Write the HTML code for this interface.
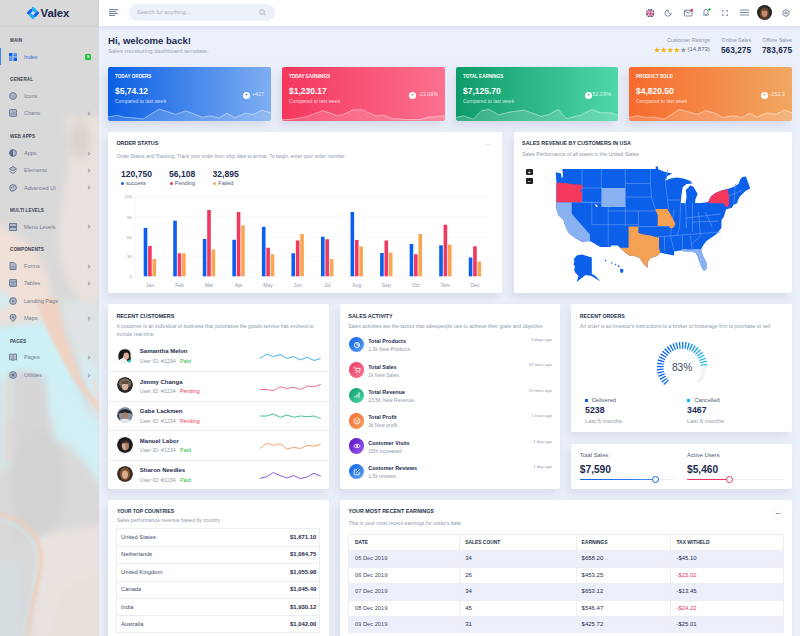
<!DOCTYPE html>
<html><head><meta charset="utf-8">
<style>
*{box-sizing:border-box;margin:0;padding:0}
html,body{width:800px;height:636px;overflow:hidden}
body{background:#ecf0fa;font-family:"Liberation Sans",sans-serif;color:#1f2b4d;position:relative}
.a{position:absolute;white-space:nowrap}
.card{position:absolute;background:#fff;border-radius:2px;box-shadow:-3px 5px 8px 0 rgba(200,206,222,.55)}
.t{font-weight:700;color:#242f48}
.m{color:#8f98ad}
/* sidebar */
#sb{position:absolute;left:0;top:0;width:99px;height:636px;overflow:hidden;background:#d9d9d9}
#sb .nav{position:absolute;left:0;top:0;width:99px;height:636px}
.sh{position:absolute;left:10px;font-size:4.6px;font-weight:700;color:#3b4150;letter-spacing:.1px}
.si{position:absolute;left:24px;font-size:5.55px;color:#737b8f}
.ic{position:absolute;left:9px;width:8px;height:8px}
.chev{position:absolute;left:87px;width:2.6px;height:2.6px;border-right:.7px solid #989eac;border-top:.7px solid #989eac;transform:rotate(45deg)}
/* header */
#hd{position:absolute;left:99px;top:0;width:701px;height:26.5px;background:#fff;border-bottom:.5px solid #e3e6f3;box-shadow:0 1px 3px rgba(190,195,235,.45);z-index:2}
</style></head>
<body>
<div id="sb">
  <svg width="99" height="636" style="position:absolute;left:0;top:0" viewBox="0 0 99 636">
    <defs>
      <filter id="bl" x="-50%" y="-50%" width="200%" height="200%"><feGaussianBlur stdDeviation="3.5"/></filter>
      <filter id="bl2" x="-50%" y="-50%" width="200%" height="200%"><feGaussianBlur stdDeviation="1.4"/></filter>
    </defs>
    <rect width="99" height="636" fill="#d9d9d9"/>
    <g filter="url(#bl)">
      <path d="M62 118 C80 150 58 200 58 240 C60 270 70 290 80 300 L110 300 L110 115Z" fill="#e9e1dd"/>
      <ellipse cx="80" cy="140" rx="10" ry="20" fill="#dcd3cf"/>
      <path d="M-5 222 C15 232 38 248 46 272 C50 285 52 300 55 318 L-5 325Z" fill="#efe0d8"/>
      <path d="M58 300 C66 340 85 380 104 418 L104 300Z" fill="#dee2e4"/>
      <path d="M-5 328 C20 325 40 320 52 322 C60 345 75 380 92 418 L-5 418Z" fill="#cdf0f7"/>
      <ellipse cx="2" cy="300" rx="9" ry="9" fill="#d3ecf1"/>
      <path d="M80 350 C90 360 99 370 104 380 L104 430 C95 420 88 400 80 350Z" fill="#d6edf2"/>
      <path d="M12 372 C25 368 40 372 46 380 C50 420 55 470 60 540 L12 540Z" fill="#d6d6d7"/>
      <path d="M46 380 C70 385 95 420 104 430 L104 490 C90 470 70 440 55 440Z" fill="#d2eff5"/>
      <ellipse cx="38" cy="485" rx="28" ry="55" fill="#d3d3d4"/>
      <path d="M36 540 C45 560 35 590 30 640 L104 640 L104 525 C80 530 55 525 36 540Z" fill="#e9e2df"/>
      <path d="M60 590 C75 580 95 575 104 570 L104 640 L50 640Z" fill="#eae0da"/>
      <path d="M-5 560 L22 560 L22 640 L-5 640Z" fill="#d6dde0"/>
      <path d="M-5 380 L10 380 L10 470 L-5 470Z" fill="#d8e3e6"/>
    </g>
    <g filter="url(#bl2)">
      <path d="M36 298 C44 330 62 360 76 382 L99 414 L101 408 L81 380 C70 350 62 330 57 298Z" fill="#f1d3c4"/>
      <path d="M0 514 C20 519 38 528 41 556 C42 580 30 600 28 636" fill="none" stroke="#f1cdb9" stroke-width="3"/>
      <path d="M0 520 C18 525 34 534 37 556 C38 580 26 600 24 636" fill="none" stroke="#d3e6ea" stroke-width="1.4"/>
      <path d="M94 378 C97 395 99 410 99 420" fill="none" stroke="#ecd6ca" stroke-width="2"/>
      <path d="M9 372 C8 400 11 430 8 460" fill="none" stroke="#eed2c4" stroke-width="1.8"/>
    </g>
    <line x1="0" y1="26" x2="99" y2="26" stroke="#cfcfd2" stroke-width=".6"/>
  </svg>
  <div class="nav">
    <svg class="a" style="left:26.2px;top:5.6px" width="14" height="14" viewBox="-7 -7 14 14">
      <g transform="rotate(45)">
        <rect x="-4.7" y="-4.7" width="6.4" height="3.1" rx="1.2" fill="#19b0f6"/>
        <rect x="1.6" y="-4.7" width="3.1" height="6.4" rx="1.2" fill="#0b66ee"/>
        <rect x="-1.7" y="1.6" width="6.4" height="3.1" rx="1.2" fill="#19b0f6"/>
        <rect x="-4.7" y="-1.7" width="3.1" height="6.4" rx="1.2" fill="#0b66ee"/>
      </g>
    </svg>
    <div class="a" style="left:40.5px;top:6px;font-size:11.3px;line-height:14px;font-weight:700;color:#17254a">Valex</div>
    <div class="a" style="left:0;top:48px;width:1.2px;height:16.5px;background:#3d86f0"></div>
    <svg class="a" style="left:9px;top:53px" width="8" height="8" viewBox="0 0 8 8">
      <rect x="0" y="0" width="3.5" height="3.5" fill="#0a62e8"/><rect x="4.5" y="0.3" width="3.5" height="1.2" fill="#0a62e8"/><rect x="4.5" y="2.2" width="3.5" height="1.2" fill="#0a62e8"/>
      <rect x="0" y="4.5" width="3.5" height="1.2" fill="#0a62e8"/><rect x="0" y="6.5" width="3.5" height="1.2" fill="#0a62e8"/><rect x="4.5" y="4.5" width="3.5" height="3.5" fill="#0a62e8"/>
    </svg>
    <div class="si" style="top:51.7px;line-height:10px;color:#2f6fe0">Index</div>
    <div class="a" style="left:85px;top:54px;width:6px;height:6px;background:#22c03c;border-radius:1px;font-size:4px;line-height:6px;color:#fff;text-align:center;font-weight:700">9</div>
<div class="sh" style="top:35.7px;line-height:10px">MAIN</div>
<div class="sh" style="top:75.0px;line-height:10px">GENERAL</div>
<div class="sh" style="top:131.8px;line-height:10px">WEB APPS</div>
<div class="sh" style="top:206.0px;line-height:10px">MULTI LEVELS</div>
<div class="sh" style="top:245.0px;line-height:10px">COMPONENTS</div>
<div class="sh" style="top:336.5px;line-height:10px">PAGES</div>
<svg class="a" style="left:9px;top:92.0px" width="8" height="8" viewBox="0 0 8 8"><circle cx="4" cy="4" r="3.4" fill="#b3bccb" stroke="#5d6e8c" stroke-width=".9"/><path d="M2.4 4.6 C3 5.6 5 5.6 5.6 4.6" fill="none" stroke="#5d6e8c" stroke-width=".6"/><circle cx="2.9" cy="3.2" r=".45" fill="#5d6e8c"/><circle cx="5.1" cy="3.2" r=".45" fill="#5d6e8c"/></svg>
<div class="si" style="top:91.0px;line-height:10px">Icons</div>
<svg class="a" style="left:9px;top:109.3px" width="8" height="8" viewBox="0 0 8 8"><rect x=".6" y=".6" width="6.8" height="6.8" rx=".6" fill="#b3bccb" stroke="#5d6e8c" stroke-width=".9"/><path d="M2.3 5.8V4M4 5.8V2.4M5.7 5.8V3.4" stroke="#5d6e8c" stroke-width=".7"/></svg>
<div class="si" style="top:108.3px;line-height:10px">Charts</div>
<div class="chev" style="top:111.8px"></div>
<svg class="a" style="left:9px;top:149.0px" width="8" height="8" viewBox="0 0 8 8"><circle cx="4" cy="4" r="3.4" fill="#b3bccb" stroke="#5d6e8c" stroke-width=".9"/><path d="M4 .6 A3.4 3.4 0 0 0 4 7.4Z" fill="#5d6e8c"/></svg>
<div class="si" style="top:148.0px;line-height:10px">Apps</div>
<div class="chev" style="top:151.5px"></div>
<svg class="a" style="left:9px;top:166.2px" width="8" height="8" viewBox="0 0 8 8"><path d="M4 .5 L7.5 2.8 L4 5 L.5 2.8Z" fill="#b3bccb" stroke="#5d6e8c" stroke-width=".9"/><path d="M.5 5 L4 7.5 L7.5 5" fill="none" stroke="#5d6e8c" stroke-width=".9"/></svg>
<div class="si" style="top:165.2px;line-height:10px">Elements</div>
<div class="chev" style="top:168.7px"></div>
<svg class="a" style="left:9px;top:183.7px" width="8" height="8" viewBox="0 0 8 8"><path d="M4 .6 A3.4 3.4 0 1 0 4.2 7.4 C5 7.4 4.6 6.2 5.4 6 C6.6 5.8 7.4 5.4 7.4 4 A3.4 3.4 0 0 0 4 .6Z" fill="#b3bccb" stroke="#5d6e8c" stroke-width=".9"/><circle cx="2.6" cy="3.4" r=".5" fill="#5d6e8c"/><circle cx="4.4" cy="2.4" r=".5" fill="#5d6e8c"/></svg>
<div class="si" style="top:182.7px;line-height:10px">Advanced UI</div>
<div class="chev" style="top:186.2px"></div>
<svg class="a" style="left:9px;top:222.8px" width="8" height="8" viewBox="0 0 8 8"><rect x=".6" y=".6" width="6.8" height="3" fill="#b3bccb" stroke="#5d6e8c" stroke-width=".9"/><rect x=".6" y="4.4" width="6.8" height="3" fill="#b3bccb" stroke="#5d6e8c" stroke-width=".9"/></svg>
<div class="si" style="top:221.8px;line-height:10px">Menu Levels</div>
<div class="chev" style="top:225.3px"></div>
<svg class="a" style="left:9px;top:262.0px" width="8" height="8" viewBox="0 0 8 8"><path d="M1 .5 H5 L7 2.5 V7.5 H1Z" fill="#b3bccb" stroke="#5d6e8c" stroke-width=".9"/><path d="M2.6 4.4H5.4M2.6 5.9H5.4" stroke="#5d6e8c" stroke-width=".6"/></svg>
<div class="si" style="top:261.0px;line-height:10px">Forms</div>
<div class="chev" style="top:264.5px"></div>
<svg class="a" style="left:9px;top:279.0px" width="8" height="8" viewBox="0 0 8 8"><rect x=".6" y=".6" width="6.8" height="6.8" rx=".4" fill="#b3bccb" stroke="#5d6e8c" stroke-width=".9"/><path d="M.6 2.8H7.4M3 2.8V7.4M5 2.8V7.4" stroke="#5d6e8c" stroke-width=".6"/></svg>
<div class="si" style="top:278.0px;line-height:10px">Tables</div>
<div class="chev" style="top:281.5px"></div>
<svg class="a" style="left:9px;top:296.7px" width="8" height="8" viewBox="0 0 8 8"><circle cx="4" cy="4" r="3.4" fill="#b3bccb" stroke="#5d6e8c" stroke-width=".9"/><path d="M3.2 2.6 L5.4 4 L3.2 5.4Z" fill="#5d6e8c"/></svg>
<div class="si" style="top:295.7px;line-height:10px">Landing Page</div>
<svg class="a" style="left:9px;top:314.2px" width="8" height="8" viewBox="0 0 8 8"><path d="M4 7.6 C1.5 5 1 4 1 3.2 A3 3 0 0 1 7 3.2 C7 4 6.5 5 4 7.6Z" fill="#b3bccb" stroke="#5d6e8c" stroke-width=".9"/><circle cx="4" cy="3.2" r="1" fill="#5d6e8c"/></svg>
<div class="si" style="top:313.2px;line-height:10px">Maps</div>
<div class="chev" style="top:316.7px"></div>
<svg class="a" style="left:9px;top:353.2px" width="8" height="8" viewBox="0 0 8 8"><path d="M.5 1.2 C1.5 .9 2.8 .9 4 1.6 C5.2 .9 6.5 .9 7.5 1.2 V7 C6.5 6.7 5.2 6.7 4 7.4 C2.8 6.7 1.5 6.7 .5 7Z" fill="#b3bccb" stroke="#5d6e8c" stroke-width=".8"/><path d="M4 1.6V7.4" stroke="#5d6e8c" stroke-width=".6"/></svg>
<div class="si" style="top:352.2px;line-height:10px">Pages</div>
<div class="chev" style="top:355.7px"></div>
<svg class="a" style="left:9px;top:371.0px" width="8" height="8" viewBox="0 0 8 8"><circle cx="4" cy="4" r="3.4" fill="#b3bccb" stroke="#5d6e8c" stroke-width=".9"/><circle cx="4" cy="4" r="1.5" fill="#5d6e8c"/></svg>
<div class="si" style="top:370.0px;line-height:10px">Utilities</div>
<div class="chev" style="top:373.5px"></div>
  </div>
</div>
<div id="hd">
  <svg class="a" style="left:10px;top:9px" width="9" height="7" viewBox="0 0 9 7"><path d="M0 .6H9M0 2.6H7M0 4.6H9M0 6.4H6" stroke="#5b6e88" stroke-width=".9"/></svg>
  <div class="a" style="left:30px;top:4px;width:146px;height:17px;border-radius:9px;background:#edf0f9"></div>
  <div class="a" style="left:38px;top:7.3px;font-size:5.6px;line-height:10px;color:#a8afc0">Search for anything...</div>
  <svg class="a" style="left:160px;top:8.5px" width="7" height="7" viewBox="0 0 7 7"><circle cx="3" cy="3" r="2.3" fill="none" stroke="#9aa3b6" stroke-width=".8"/><path d="M4.7 4.7 L6.5 6.5" stroke="#9aa3b6" stroke-width=".8"/></svg>
  <!-- right icons -->
  <svg class="a" style="left:547.2px;top:8.5px" width="8.4" height="8.4" viewBox="0 0 8 8">
    <defs><clipPath id="fc"><circle cx="4" cy="4" r="4"/></clipPath></defs>
    <g clip-path="url(#fc)"><rect width="8" height="8" fill="#28499e"/><path d="M0 0L8 8M8 0L0 8" stroke="#fff" stroke-width="1.2"/><path d="M0 0L8 8M8 0L0 8" stroke="#e0324a" stroke-width=".45"/><path d="M4 0V8M0 4H8" stroke="#fff" stroke-width="1.6"/><path d="M4 0V8M0 4H8" stroke="#e0324a" stroke-width="1"/></g>
  </svg>
  <svg class="a" style="left:565px;top:8.5px" width="8" height="8" viewBox="0 0 8 8"><path d="M4.2 1 A3.1 3.1 0 1 0 7.2 4.6 A2.6 2.6 0 0 1 4.2 1Z" fill="none" stroke="#5b6e88" stroke-width=".8"/></svg>
  <svg class="a" style="left:584.5px;top:8.5px" width="10" height="8" viewBox="0 0 10 8"><rect x=".5" y="1.2" width="7.5" height="5.8" rx=".6" fill="none" stroke="#5b6e88" stroke-width=".8"/><path d="M.8 1.6 L4.2 4 L7.7 1.6" fill="none" stroke="#5b6e88" stroke-width=".8"/><circle cx="7.8" cy="1.2" r="1.3" fill="#ee335e"/></svg>
  <svg class="a" style="left:602.5px;top:7.5px" width="10" height="9" viewBox="0 0 10 9"><path d="M1.3 6.8 H6.7 L6 5.8 V3.6 A2 2.2 0 0 0 2 3.6 V5.8Z" fill="none" stroke="#5b6e88" stroke-width=".8"/><path d="M3.2 7.6 H4.8" stroke="#5b6e88" stroke-width=".8"/><circle cx="7.5" cy="1.5" r="1.3" fill="#22c03c"/></svg>
  <svg class="a" style="left:622.5px;top:9.5px" width="6" height="6" viewBox="0 0 6 6"><path d="M.4 1.8V.4H1.8M4.2 .4H5.6V1.8M5.6 4.2V5.6H4.2M1.8 5.6H.4V4.2" fill="none" stroke="#5b6e88" stroke-width=".8"/></svg>
  <svg class="a" style="left:641px;top:9px" width="9" height="7" viewBox="0 0 9 7"><path d="M0 1H9M0 3.5H9M0 6H9" stroke="#5b6e88" stroke-width=".8"/></svg>
  <svg class="a" style="left:657.8px;top:5.1px" width="15" height="15" viewBox="0 0 16 16"><defs><clipPath id="hav"><circle cx="8" cy="8" r="8"/></clipPath></defs><g clip-path="url(#hav)"><rect width="16" height="16" fill="#1d2621"/><ellipse cx="8" cy="9" rx="5.2" ry="7" fill="#5e3d2a"/><ellipse cx="8" cy="8.6" rx="3.1" ry="4.3" fill="#c48e6e"/><path d="M4.5 5 C5.5 2.5 10.5 2.5 11.5 5 L10 6 L6 6Z" fill="#6b4630"/></g></svg>
  <svg class="a" style="left:683px;top:8.5px" width="8" height="8" viewBox="0 0 8 8"><path d="M4 .5 L7 2.25 V5.75 L4 7.5 L1 5.75 V2.25Z" fill="none" stroke="#5b6e88" stroke-width=".8"/><circle cx="4" cy="4" r="1.2" fill="none" stroke="#5b6e88" stroke-width=".8"/></svg>
</div>

<div id="main">
<div class="a t" style="left:108px;top:34.5px;font-size:9.58px;line-height:12px;color:#1d2b4f">Hi, welcome back!</div>
<div class="a m" style="left:108px;top:47px;font-size:5.99px;line-height:9px;color:#9aa1b3">Sales monitoring dashboard template.</div>
<div class="a m" style="left:667px;top:35.9px;font-size:5.37px;line-height:9px;color:#8a93a8">Customer Ratings</div>
<svg class="a" style="left:654px;top:46.8px" width="33" height="6" viewBox="0 0 33 6">
  <g id="st"><path d="M3 .3 L3.8 2.1 L5.8 2.2 L4.3 3.5 L4.8 5.4 L3 4.4 L1.2 5.4 L1.7 3.5 L.2 2.2 L2.2 2.1Z" fill="#f5b614"/></g>
  <use href="#st" x="6.6"/><use href="#st" x="13.2"/><use href="#st" x="19.8"/>
  <path transform="translate(26.4 0)" d="M3 .3 L3.8 2.1 L5.8 2.2 L4.3 3.5 L4.8 5.4 L3 4.4 L1.2 5.4 L1.7 3.5 L.2 2.2 L2.2 2.1Z" fill="#9aa3b6"/>
</svg>
<div class="a" style="left:687.5px;top:45.4px;font-size:6.0px;line-height:9px;color:#5d6780">(14,873)</div>
<div class="a m" style="left:721.6px;top:35.9px;font-size:5.19px;line-height:9px;color:#8a93a8">Online Sales</div>
<div class="a t" style="left:721px;top:44.6px;font-size:8.3px;line-height:11px;color:#1d2b4f">563,275</div>
<div class="a m" style="left:762.4px;top:35.9px;font-size:5.24px;line-height:9px;color:#8a93a8">Offline Sales</div>
<div class="a t" style="left:762px;top:44.6px;font-size:8.3px;line-height:11px;color:#1d2b4f">783,675</div>

<div class="card sc" style="left:108px;top:66.5px;width:163px;height:54px;background:linear-gradient(to right,#0a5fe4,#7eaef1);box-shadow:-3px 5px 8px 0 rgba(190,198,218,.5)">
  <div class="a" style="left:7px;top:5.3px;font-size:4.6px;line-height:10px;font-weight:700;color:#fff">TODAY ORDERS</div>
  <div class="a" style="left:7px;top:18.7px;font-size:8.5px;line-height:12px;font-weight:700;color:#fff">$5,74.12</div>
  <div class="a" style="left:7px;top:30px;font-size:5px;line-height:9px;color:rgba(255,255,255,.78)">Compared to last week</div>
  <div class="a" style="right:7px;top:23.6px;font-size:5.33px;line-height:9px;color:rgba(255,255,255,.82)">+427</div><div class="a" style="left:135.1px;top:25.0px;width:7px;height:7px;border-radius:50%;background:#fff"></div><svg class="a" style="left:137.0px;top:26.9px" width="3.2" height="3.2" viewBox="0 0 4 4"><path d="M.6 1.2 L3.4 1.2 L2 3.2Z" fill="#0a62e8"/></svg>
  <svg class="a" style="left:0;top:0" width="163" height="54" viewBox="0 0 163 54">
    <path d="M0.0 49.9 L9.2 48.3 L16.4 50.3 L26.7 50.9 L34.9 52.0 L51.3 42.1 L67.7 47.4 L77.9 43.8 L94.3 50.3 L102.5 48.9 L110.7 50.9 L118.9 46.2 L127.1 50.9 L137.4 46.2 L145.6 47.4 L153.8 43.3 L163.0 45.8 L163 54 L0 54Z" fill="rgba(255,255,255,.17)"/>
    <path d="M0.0 49.9 L9.2 48.3 L16.4 50.3 L26.7 50.9 L34.9 52.0 L51.3 42.1 L67.7 47.4 L77.9 43.8 L94.3 50.3 L102.5 48.9 L110.7 50.9 L118.9 46.2 L127.1 50.9 L137.4 46.2 L145.6 47.4 L153.8 43.3 L163.0 45.8" fill="none" stroke="rgba(255,255,255,.5)" stroke-width=".9"/>
  </svg>
</div>
<div class="card sc" style="left:282px;top:66.5px;width:163px;height:54px;background:linear-gradient(to right,#f5375c,#fb7190);box-shadow:-3px 5px 8px 0 rgba(190,198,218,.5)">
  <div class="a" style="left:7px;top:5.3px;font-size:4.6px;line-height:10px;font-weight:700;color:#fff">TODAY EARNINGS</div>
  <div class="a" style="left:7px;top:18.7px;font-size:8.5px;line-height:12px;font-weight:700;color:#fff">$1,230.17</div>
  <div class="a" style="left:7px;top:30px;font-size:5px;line-height:9px;color:rgba(255,255,255,.78)">Compared to last week</div>
  <div class="a" style="right:7px;top:23.6px;font-size:5.32px;line-height:9px;color:rgba(255,255,255,.82)">-23.09%</div><div class="a" style="left:127.3px;top:25.0px;width:7px;height:7px;border-radius:50%;background:#fff"></div><svg class="a" style="left:129.2px;top:26.9px" width="3.2" height="3.2" viewBox="0 0 4 4"><path d="M.6 1.2 L3.4 1.2 L2 3.2Z" fill="#f1385e"/></svg>
  <svg class="a" style="left:0;top:0" width="163" height="54" viewBox="0 0 163 54">
    <path d="M0.1 52.6 L10.7 52.2 L25.6 49.4 L40.5 43.7 L45.8 45.2 L55.4 48.8 L61.7 47.3 L70.2 43.1 L78.7 42.4 L93.6 48.8 L102.1 48.4 L110.6 51.6 L125.5 52.6 L138.2 52.6 L146.7 50.1 L163.0 48.8 L163 54 L0 54Z" fill="rgba(255,255,255,.17)"/>
    <path d="M0.1 52.6 L10.7 52.2 L25.6 49.4 L40.5 43.7 L45.8 45.2 L55.4 48.8 L61.7 47.3 L70.2 43.1 L78.7 42.4 L93.6 48.8 L102.1 48.4 L110.6 51.6 L125.5 52.6 L138.2 52.6 L146.7 50.1 L163.0 48.8" fill="none" stroke="rgba(255,255,255,.5)" stroke-width=".9"/>
  </svg>
</div>
<div class="card sc" style="left:456px;top:66.5px;width:162px;height:54px;background:linear-gradient(to right,#0f9b69,#4fd7a9);box-shadow:-3px 5px 8px 0 rgba(190,198,218,.5)">
  <div class="a" style="left:7px;top:5.3px;font-size:4.6px;line-height:10px;font-weight:700;color:#fff">TOTAL EARNINGS</div>
  <div class="a" style="left:7px;top:18.7px;font-size:8.5px;line-height:12px;font-weight:700;color:#fff">$7,125.70</div>
  <div class="a" style="left:7px;top:30px;font-size:5px;line-height:9px;color:rgba(255,255,255,.78)">Compared to last week</div>
  <div class="a" style="right:7px;top:23.6px;font-size:5.45px;line-height:9px;color:rgba(255,255,255,.82)">52.09%</div><div class="a" style="left:128.9px;top:25.0px;width:7px;height:7px;border-radius:50%;background:#fff"></div><svg class="a" style="left:130.8px;top:26.9px" width="3.2" height="3.2" viewBox="0 0 4 4"><path d="M.6 1.2 L3.4 1.2 L2 3.2Z" fill="#16a36f"/></svg>
  <svg class="a" style="left:0;top:0" width="162" height="54" viewBox="0 0 162 54">
    <path d="M0.1 50.5 L7.6 48.8 L17.1 52.2 L25.6 43.7 L33.1 42.4 L42.6 47.9 L53.2 45.2 L68.1 43.1 L85.1 49.4 L93.6 47.3 L102.1 42.4 L110.6 51.6 L125.5 47.9 L136.1 42.4 L144.6 45.8 L155.2 45.8 L162.0 48.4 L162 54 L0 54Z" fill="rgba(255,255,255,.17)"/>
    <path d="M0.1 50.5 L7.6 48.8 L17.1 52.2 L25.6 43.7 L33.1 42.4 L42.6 47.9 L53.2 45.2 L68.1 43.1 L85.1 49.4 L93.6 47.3 L102.1 42.4 L110.6 51.6 L125.5 47.9 L136.1 42.4 L144.6 45.8 L155.2 45.8 L162.0 48.4" fill="none" stroke="rgba(255,255,255,.5)" stroke-width=".9"/>
  </svg>
</div>
<div class="card sc" style="left:629px;top:66.5px;width:163px;height:54px;background:linear-gradient(to right,#f76a2d,#f0a862);box-shadow:-3px 5px 8px 0 rgba(190,198,218,.5)">
  <div class="a" style="left:7px;top:5.3px;font-size:4.6px;line-height:10px;font-weight:700;color:#fff">PRODUCT SOLD</div>
  <div class="a" style="left:7px;top:18.7px;font-size:8.5px;line-height:12px;font-weight:700;color:#fff">$4,820.50</div>
  <div class="a" style="left:7px;top:30px;font-size:5px;line-height:9px;color:rgba(255,255,255,.78)">Compared to last week</div>
  <div class="a" style="right:7px;top:23.6px;font-size:5.64px;line-height:9px;color:rgba(255,255,255,.82)">-152.3</div><div class="a" style="left:131.9px;top:25.0px;width:7px;height:7px;border-radius:50%;background:#fff"></div><svg class="a" style="left:133.8px;top:26.9px" width="3.2" height="3.2" viewBox="0 0 4 4"><path d="M.6 1.2 L3.4 1.2 L2 3.2Z" fill="#f76a2d"/></svg>
  <svg class="a" style="left:0;top:0" width="163" height="54" viewBox="0 0 163 54">
    <path d="M0.0 50.5 L8.6 48.8 L17.1 50.5 L25.6 50.1 L35.2 52.2 L50.1 42.4 L68.1 47.3 L76.6 43.7 L85.1 45.8 L93.6 50.5 L104.2 48.8 L112.7 50.5 L121.2 46.2 L127.6 50.1 L138.2 45.8 L146.7 47.3 L155.2 43.1 L163.0 45.8 L163 54 L0 54Z" fill="rgba(255,255,255,.17)"/>
    <path d="M0.0 50.5 L8.6 48.8 L17.1 50.5 L25.6 50.1 L35.2 52.2 L50.1 42.4 L68.1 47.3 L76.6 43.7 L85.1 45.8 L93.6 50.5 L104.2 48.8 L112.7 50.5 L121.2 46.2 L127.6 50.1 L138.2 45.8 L146.7 47.3 L155.2 43.1 L163.0 45.8" fill="none" stroke="rgba(255,255,255,.5)" stroke-width=".9"/>
  </svg>
</div>
<div class="card" style="left:108px;top:132px;width:394px;height:161px">
  <div class="a t" style="left:8.4px;top:6.25px;font-size:5.43px;line-height:10px">ORDER STATUS</div>
  <div class="a" style="left:377px;top:8px;font-size:7px;line-height:10px;color:#b4bac8;letter-spacing:-.5px">&middot;&middot;&middot;</div>
  <div class="a m" style="left:8.4px;top:19.5px;font-size:4.99px;line-height:9px">Order Status and Tracking. Track your order from ship date to arrival. To begin, enter your order number.</div>
  <div class="a t" style="left:13px;top:35.5px;font-size:8.58px;line-height:12px;color:#1d2b4f">120,750</div>
  <div class="a t" style="left:61px;top:35.5px;font-size:8.58px;line-height:12px;color:#1d2b4f">56,108</div>
  <div class="a t" style="left:104.5px;top:35.5px;font-size:8.58px;line-height:12px;color:#1d2b4f">32,895</div>
  <div class="a" style="left:12.7px;top:50px;width:3px;height:3px;border-radius:50%;background:#0b5ff0"></div>
  <div class="a" style="left:18px;top:47px;font-size:5.5px;line-height:9px;color:#4d5875">success</div>
  <div class="a" style="left:61.5px;top:50px;width:3px;height:3px;border-radius:50%;background:#f1385e"></div>
  <div class="a" style="left:66.8px;top:47px;font-size:5.5px;line-height:9px;color:#4d5875">Pending</div>
  <div class="a" style="left:105px;top:50px;width:3px;height:3px;border-radius:50%;background:#f9a552"></div>
  <div class="a" style="left:110.3px;top:47px;font-size:5.5px;line-height:9px;color:#4d5875">Failed</div>
  <svg class="a" style="left:0;top:0" width="394" height="161" viewBox="0 0 394 161" font-family="Liberation Sans">
    <line x1="27" y1="64.75" x2="381" y2="64.75" stroke="#eef0f5" stroke-width=".6"/><text x="23.75" y="66.35" text-anchor="end" font-size="4.2" fill="#8f98ad">120</text><line x1="27" y1="85.00" x2="381" y2="85.00" stroke="#eef0f5" stroke-width=".6"/><text x="23.75" y="86.60" text-anchor="end" font-size="4.2" fill="#8f98ad">90</text><line x1="27" y1="105.00" x2="381" y2="105.00" stroke="#eef0f5" stroke-width=".6"/><text x="23.75" y="106.60" text-anchor="end" font-size="4.2" fill="#8f98ad">60</text><line x1="27" y1="124.75" x2="381" y2="124.75" stroke="#eef0f5" stroke-width=".6"/><text x="23.75" y="126.35" text-anchor="end" font-size="4.2" fill="#8f98ad">30</text><line x1="27" y1="144.30" x2="381" y2="144.30" stroke="#eef0f5" stroke-width=".6"/><text x="23.75" y="145.90" text-anchor="end" font-size="4.2" fill="#8f98ad">0</text><line x1="27" y1="64.75" x2="27" y2="144.3" stroke="#eef0f5" stroke-width=".6"/>
    <rect x="35.70" y="95.90" width="3.6" height="48.40" fill="#0b5ff0"/><rect x="40.10" y="114.00" width="3.6" height="30.30" fill="#f1385e"/><rect x="44.50" y="127.00" width="3.6" height="17.30" fill="#f9a552"/><text x="41.90" y="155.20" text-anchor="middle" font-size="5" fill="#8f98ad">Jan</text><rect x="65.25" y="88.75" width="3.6" height="55.55" fill="#0b5ff0"/><rect x="69.65" y="121.25" width="3.6" height="23.05" fill="#f1385e"/><rect x="74.05" y="121.25" width="3.6" height="23.05" fill="#f9a552"/><text x="71.45" y="155.20" text-anchor="middle" font-size="5" fill="#8f98ad">Feb</text><rect x="94.80" y="107.00" width="3.6" height="37.30" fill="#0b5ff0"/><rect x="99.20" y="78.00" width="3.6" height="66.30" fill="#f1385e"/><rect x="103.60" y="117.50" width="3.6" height="26.80" fill="#f9a552"/><text x="101.00" y="155.20" text-anchor="middle" font-size="5" fill="#8f98ad">Mar</text><rect x="124.35" y="107.75" width="3.6" height="36.55" fill="#0b5ff0"/><rect x="128.75" y="80.00" width="3.6" height="64.30" fill="#f1385e"/><rect x="133.15" y="93.50" width="3.6" height="50.80" fill="#f9a552"/><text x="130.55" y="155.20" text-anchor="middle" font-size="5" fill="#8f98ad">Apr</text><rect x="153.90" y="94.75" width="3.6" height="49.55" fill="#0b5ff0"/><rect x="158.30" y="115.75" width="3.6" height="28.55" fill="#f1385e"/><rect x="162.70" y="122.25" width="3.6" height="22.05" fill="#f9a552"/><text x="160.10" y="155.20" text-anchor="middle" font-size="5" fill="#8f98ad">May</text><rect x="183.45" y="121.25" width="3.6" height="23.05" fill="#0b5ff0"/><rect x="187.85" y="108.50" width="3.6" height="35.80" fill="#f1385e"/><rect x="192.25" y="102.00" width="3.6" height="42.30" fill="#f9a552"/><text x="189.65" y="155.20" text-anchor="middle" font-size="5" fill="#8f98ad">Jun</text><rect x="213.00" y="104.75" width="3.6" height="39.55" fill="#0b5ff0"/><rect x="217.40" y="107.25" width="3.6" height="37.05" fill="#f1385e"/><rect x="221.80" y="127.00" width="3.6" height="17.30" fill="#f9a552"/><text x="219.20" y="155.20" text-anchor="middle" font-size="5" fill="#8f98ad">Jul</text><rect x="242.55" y="80.00" width="3.6" height="64.30" fill="#0b5ff0"/><rect x="246.95" y="108.00" width="3.6" height="36.30" fill="#f1385e"/><rect x="251.35" y="114.50" width="3.6" height="29.80" fill="#f9a552"/><text x="248.75" y="155.20" text-anchor="middle" font-size="5" fill="#8f98ad">Aug</text><rect x="272.10" y="121.00" width="3.6" height="23.30" fill="#0b5ff0"/><rect x="276.50" y="108.50" width="3.6" height="35.80" fill="#f1385e"/><rect x="280.90" y="120.50" width="3.6" height="23.80" fill="#f9a552"/><text x="278.30" y="155.20" text-anchor="middle" font-size="5" fill="#8f98ad">Sep</text><rect x="301.65" y="112.00" width="3.6" height="32.30" fill="#0b5ff0"/><rect x="306.05" y="122.25" width="3.6" height="22.05" fill="#f1385e"/><rect x="310.45" y="102.00" width="3.6" height="42.30" fill="#f9a552"/><text x="307.85" y="155.20" text-anchor="middle" font-size="5" fill="#8f98ad">Oct</text><rect x="331.20" y="113.25" width="3.6" height="31.05" fill="#0b5ff0"/><rect x="335.60" y="92.75" width="3.6" height="51.55" fill="#f1385e"/><rect x="340.00" y="112.50" width="3.6" height="31.80" fill="#f9a552"/><text x="337.40" y="155.20" text-anchor="middle" font-size="5" fill="#8f98ad">Nov</text><rect x="360.75" y="125.50" width="3.6" height="18.80" fill="#0b5ff0"/><rect x="365.15" y="114.25" width="3.6" height="30.05" fill="#f1385e"/><rect x="369.55" y="129.50" width="3.6" height="14.80" fill="#f9a552"/><text x="366.95" y="155.20" text-anchor="middle" font-size="5" fill="#8f98ad">Dec</text>
  </svg>
</div>
<div class="card" style="left:513.5px;top:132px;width:278.5px;height:161px">
  <div class="a t" style="left:8.6px;top:6.4px;font-size:5.34px;line-height:10px">SALES REVENUE BY CUSTOMERS IN USA</div>
  <div class="a m" style="left:8.6px;top:18px;font-size:5.14px;line-height:9px">Sales Performance of all states in the United States</div>
  <div class="a" style="left:12.5px;top:36.7px;width:6.5px;height:6.2px;border-radius:1px;background:#222;color:#fff;font-size:5px;line-height:6px;text-align:center;font-weight:700">+</div>
  <div class="a" style="left:12.5px;top:45.5px;width:6.5px;height:6.2px;border-radius:1px;background:#222;color:#fff;font-size:5px;line-height:6px;text-align:center;font-weight:700">&minus;</div>
  <svg class="a" style="left:0;top:0" width="278.5" height="161" viewBox="513.5 132 278.5 161">
    <polygon points="555.2,172.2 560.5,173.5 561.3,178.0 562.6,177.0 562.2,172.0 561.8,168.9 655.2,168.9 655.2,166.5 657.5,166.5 657.5,169.0 663.1,171.6 671.7,173.5 667.0,176.0 664.4,180.7 670.0,178.5 676.2,177.5 683.0,178.5 689.4,180.7 692.0,183.4 686.0,184.0 682.2,187.3 681.0,195.0 680.2,203.1 685.0,203.3 686.0,197.0 685.4,190.0 690.0,185.3 693.0,187.0 697.2,194.0 695.0,199.0 694.6,203.1 700.0,203.0 705.0,202.4 707.7,201.7 710.4,196.5 715.0,193.0 720.9,190.6 728.7,188.6 733.0,187.0 738.0,184.0 740.0,179.0 741.9,177.0 745.5,176.5 747.0,181.0 749.7,188.6 745.0,191.0 739.3,196.5 737.0,201.0 737.0,203.0 733.0,205.0 731.4,207.7 725.5,209.5 724.5,213.0 723.0,217.5 721.0,220.0 720.9,227.9 715.6,234.4 711.7,237.0 706.0,241.0 702.5,245.6 700.5,249.5 702.5,256.0 706.0,263.0 706.0,268.6 703.5,271.0 701.0,267.0 699.0,262.0 697.0,256.0 695.0,252.5 689.4,251.5 681.5,250.2 673.6,251.5 673.6,255.4 669.7,254.8 659.8,252.8 656.6,256.1 650.0,258.0 647.0,262.0 647.1,267.9 643.0,264.0 639.2,258.0 634.0,256.0 628.7,255.4 624.8,252.8 617.0,245.6 610.4,245.6 610.4,246.9 599.9,246.9 589.4,241.0 581.5,241.7 575.0,238.0 568.4,233.1 565.0,226.0 563.1,220.0 557.9,214.9 555.9,208.3 555.9,182.7 555.5,176.0" fill="#0b5fe9"/>
    <polyline points="581.5,168.9 581.5,202.2" fill="none" stroke="#5d95f5" stroke-width=".7"/><polyline points="571.0,202.2 571.0,213.6" fill="none" stroke="#5d95f5" stroke-width=".7"/><polyline points="591.3,202.2 591.3,224.7" fill="none" stroke="#5d95f5" stroke-width=".7"/><polyline points="600.9,168.9 600.9,188.0" fill="none" stroke="#5d95f5" stroke-width=".7"/><polyline points="607.7,207.0 607.7,246.9" fill="none" stroke="#5d95f5" stroke-width=".7"/><polyline points="624.8,168.9 624.8,226.6" fill="none" stroke="#5d95f5" stroke-width=".7"/><polyline points="649.7,168.9 650.0,183.4 651.0,197.0 655.3,211.0" fill="none" stroke="#5d95f5" stroke-width=".7"/><polyline points="637.9,211.0 637.9,226.6" fill="none" stroke="#5d95f5" stroke-width=".7"/><polyline points="667.0,169.0 665.0,183.0 667.0,200.0 668.0,209.0" fill="none" stroke="#5d95f5" stroke-width=".7"/><polyline points="680.2,203.1 679.0,228.0 676.0,236.0" fill="none" stroke="#5d95f5" stroke-width=".7"/><polyline points="673.6,209.0 670.0,236.0 673.6,251.0" fill="none" stroke="#5d95f5" stroke-width=".7"/><polyline points="685.0,203.3 686.0,228.0" fill="none" stroke="#5d95f5" stroke-width=".7"/><polyline points="692.0,203.0 692.0,232.0" fill="none" stroke="#5d95f5" stroke-width=".7"/><polyline points="664.0,237.0 664.0,251.0" fill="none" stroke="#5d95f5" stroke-width=".7"/><polyline points="682.0,236.0 682.0,250.0" fill="none" stroke="#5d95f5" stroke-width=".7"/><polyline points="690.0,236.0 692.0,250.0" fill="none" stroke="#5d95f5" stroke-width=".7"/><polyline points="698.0,212.0 700.0,236.0" fill="none" stroke="#5d95f5" stroke-width=".7"/><polyline points="705.0,212.0 712.0,228.0" fill="none" stroke="#5d95f5" stroke-width=".7"/><polyline points="555.9,202.2 600.9,202.2" fill="none" stroke="#5d95f5" stroke-width=".7"/><polyline points="591.3,224.7 637.9,224.7" fill="none" stroke="#5d95f5" stroke-width=".7"/><polyline points="624.8,183.4 650.0,183.4" fill="none" stroke="#5d95f5" stroke-width=".7"/><polyline points="624.8,197.0 651.0,197.0" fill="none" stroke="#5d95f5" stroke-width=".7"/><polyline points="607.7,211.0 657.0,211.0" fill="none" stroke="#5d95f5" stroke-width=".7"/><polyline points="637.9,226.6 669.0,226.6" fill="none" stroke="#5d95f5" stroke-width=".7"/><polyline points="655.0,237.0 720.0,232.0" fill="none" stroke="#5d95f5" stroke-width=".7"/><polyline points="686.0,218.0 720.0,214.0" fill="none" stroke="#5d95f5" stroke-width=".7"/><polyline points="692.0,222.0 718.0,221.0" fill="none" stroke="#5d95f5" stroke-width=".7"/><polyline points="667.0,200.0 680.0,200.0" fill="none" stroke="#5d95f5" stroke-width=".7"/><polyline points="600.9,188.0 581.5,188.0" fill="none" stroke="#5d95f5" stroke-width=".7"/><polyline points="581.5,202.2 600.9,203.0" fill="none" stroke="#5d95f5" stroke-width=".7"/><polyline points="700.0,236.0 690.0,245.0" fill="none" stroke="#5d95f5" stroke-width=".7"/><polyline points="728.7,196.0 741.9,190.0" fill="none" stroke="#5d95f5" stroke-width=".7"/><polyline points="735.0,184.0 733.0,205.0" fill="none" stroke="#5d95f5" stroke-width=".7"/>
    <polygon points="555.9,202.2 571.0,202.2 571.0,213.6 589.4,234.4 589.4,241.0 581.5,241.7 575.0,238.0 568.4,233.1 565.0,226.0 563.1,220.0 557.9,214.9 555.9,208.3" fill="#8ab2f2" stroke="#6a9af0" stroke-width=".3"/>
    <polygon points="555.9,182.7 565.0,183.0 572.0,184.2 581.5,184.7 582.5,187.0 580.0,191.0 581.5,193.0 581.5,202.2 555.9,202.2" fill="#f5395c"/>
    <polygon points="600.9,188.0 624.8,188.0 624.8,207.0 600.9,207.0" fill="#8ab2f2"/>
    <polygon points="655.3,209.0 667.0,209.0 668.0,211.0 669.7,213.6 672.0,218.0 675.0,224.0 673.6,226.5 672.3,227.9 669.0,227.9 669.0,226.0 657.2,226.0 657.2,215.0 655.3,211.0" fill="#f4a153"/>
    <polygon points="628.1,226.6 637.9,226.6 637.9,233.1 643.0,234.5 650.0,235.5 655.0,237.0 658.5,237.5 658.5,248.0 659.8,252.8 656.6,256.1 650.0,258.0 647.0,262.0 647.1,267.9 643.0,264.0 639.2,258.0 634.0,256.0 628.7,255.4 624.8,252.8 619.5,247.8 628.1,247.8" fill="#f4a153"/>
    <polygon points="707.7,202.4 707.7,201.7 710.4,196.5 715.0,193.0 720.9,190.6 727.0,189.2 728.7,196.0 728.7,204.4 727.4,206.3 731.4,207.7 724.8,206.5 723.5,203.5 707.7,203.0" fill="#f5395c"/>
    <polygon points="681.5,249.0 690.0,249.5 698.0,249.0 700.5,249.5 702.5,256.0 706.0,263.0 706.0,268.6 703.5,271.0 701.0,267.0 699.0,262.0 697.0,256.0 695.0,252.5 689.4,252.0 681.5,251.5" fill="#8ab2f2"/>
    <polygon points="576.2,255.4 581.5,254.4 591.3,257.4 591.3,273.8 595.0,276.0 600.0,281.4 596.0,279.0 591.0,276.0 585.0,275.0 580.0,279.0 576.0,282.0 578.0,276.0 575.0,273.0 573.6,269.9 574.5,266.0 572.9,264.6 574.0,261.0 573.0,259.4" fill="#0b5fe9"/>
    <ellipse cx="595.9" cy="205.7" rx=".8" ry="1.6" transform="rotate(-40 595.9 205.7)" fill="#fff"/>
    <circle cx="605.1" cy="260.7" r=".8" fill="#0b5fe9"/><circle cx="611.3" cy="263" r=".8" fill="#0b5fe9"/>
    <circle cx="615" cy="264.5" r=".7" fill="#0b5fe9"/><circle cx="618.2" cy="266.2" r=".9" fill="#0b5fe9"/>
    <polygon points="620,268.5 623,269.5 622.5,272.5 620.5,273 619.5,271" fill="#0b5fe9"/>
  </svg>
</div>
<div class="card" style="left:108px;top:304px;width:221px;height:185px">
<div class="a t" style="left:8.4px;top:6.8px;font-size:5.39px;line-height:10px">RECENT CUSTOMERS</div>
<div class="a m" style="left:8.4px;top:19.35px;font-size:5.07px;line-height:7.6px;white-space:normal;width:205px">A customer is an individual or business that purchases the goods service has evolved to include real-time</div>
<svg class="a" style="left:9px;top:43.5px" width="16" height="16" viewBox="0 0 16 16"><defs><clipPath id="avc0"><circle cx="8" cy="8" r="8"/></clipPath></defs><g clip-path="url(#avc0)"><circle cx="8" cy="8" r="8" fill="#f1f3f4"/><path d="M2 12 C0.5 7 1.5 1.5 8 1.2 C12.5 1 14 4 13.5 8 L14 12.5 L10 13 L8.5 6 L5.5 10 Z" fill="#18171a"/><ellipse cx="9.2" cy="8" rx="2.8" ry="3.6" fill="#dfae96"/><path d="M9.5 13 L14 11 L13.5 15.5 Z" fill="#19c2ae"/></g></svg>
<div class="a t" style="left:31.8px;top:42.1px;font-size:6px;line-height:10px;color:#1d2b4f">Samantha Melon</div>
<div class="a m" style="left:31.8px;top:51.5px;font-size:5.34px;line-height:10px">User ID: #1234</div>
<div class="a" style="left:72px;top:51.5px;font-size:5.4px;line-height:10px;color:#22c03c">Paid</div>
<svg class="a" style="left:9px;top:73.2px" width="16" height="16" viewBox="0 0 16 16"><defs><clipPath id="avc1"><circle cx="8" cy="8" r="8"/></clipPath></defs><g clip-path="url(#avc1)"><circle cx="8" cy="8" r="8" fill="#2a2624"/><ellipse cx="8" cy="6.5" rx="6" ry="5" fill="#7a6a5e"/><ellipse cx="8" cy="9.5" rx="3.2" ry="3.8" fill="#d4b39c"/><path d="M4 5 C6 3 10 3 12 5 L11 7 L5 7Z" fill="#5f4d42"/></g></svg>
<div class="a t" style="left:31.8px;top:72.6px;font-size:6px;line-height:10px;color:#1d2b4f">Jimmy Changa</div>
<div class="a m" style="left:31.8px;top:81.7px;font-size:5.34px;line-height:10px">User ID: #1234</div>
<div class="a" style="left:72px;top:81.7px;font-size:5.4px;line-height:10px;color:#f1385e">Pending</div>
<svg class="a" style="left:9px;top:103.0px" width="16" height="16" viewBox="0 0 16 16"><defs><clipPath id="avc2"><circle cx="8" cy="8" r="8"/></clipPath></defs><g clip-path="url(#avc2)"><circle cx="8" cy="8" r="8" fill="#8a93a3"/><path d="M1 7 C2 0.5 14 0.5 15 7 L12 6 L4 6Z" fill="#22262f"/><ellipse cx="8" cy="8.6" rx="3" ry="3.4" fill="#a58068"/><path d="M1.5 15 C3 10.5 13 10.5 14.5 15 L8 17Z" fill="#e6e8ec"/><path d="M1 5 L0 10 L3 13Z" fill="#2f3440"/></g></svg>
<div class="a t" style="left:31.8px;top:102.2px;font-size:6px;line-height:10px;color:#1d2b4f">Gabe Lackmen</div>
<div class="a m" style="left:31.8px;top:111.7px;font-size:5.34px;line-height:10px">User ID: #1234</div>
<div class="a" style="left:72px;top:111.7px;font-size:5.4px;line-height:10px;color:#f1385e">Pending</div>
<svg class="a" style="left:9px;top:132.6px" width="16" height="16" viewBox="0 0 16 16"><defs><clipPath id="avc3"><circle cx="8" cy="8" r="8"/></clipPath></defs><g clip-path="url(#avc3)"><circle cx="8" cy="8" r="8" fill="#1d1b1c"/><ellipse cx="8.3" cy="8.8" rx="3.6" ry="4.6" fill="#d7a88e"/><path d="M4.5 5.5 C5 2.5 11.5 2.5 12 5.5 L11.5 6.2 L5 6.2Z" fill="#3a2a22"/><path d="M8.3 4.5 L12 6 L11.8 12 L8.3 13.5Z" fill="#8a6553" opacity=".6"/></g></svg>
<div class="a t" style="left:31.8px;top:132.0px;font-size:6px;line-height:10px;color:#1d2b4f">Manuel Labor</div>
<div class="a m" style="left:31.8px;top:141.1px;font-size:5.34px;line-height:10px">User ID: #1234</div>
<div class="a" style="left:72px;top:141.1px;font-size:5.4px;line-height:10px;color:#22c03c">Paid</div>
<svg class="a" style="left:9px;top:162.2px" width="16" height="16" viewBox="0 0 16 16"><defs><clipPath id="avc4"><circle cx="8" cy="8" r="8"/></clipPath></defs><g clip-path="url(#avc4)"><circle cx="8" cy="8" r="8" fill="#3b2a20"/><ellipse cx="8" cy="8" rx="5.2" ry="6.5" fill="#7a5236"/><ellipse cx="8" cy="8.6" rx="3" ry="4.2" fill="#d9ae8e"/></g></svg>
<div class="a t" style="left:31.8px;top:161.4px;font-size:6px;line-height:10px;color:#1d2b4f">Sharon Needles</div>
<div class="a m" style="left:31.8px;top:170.9px;font-size:5.34px;line-height:10px">User ID: #1234</div>
<div class="a" style="left:72px;top:170.9px;font-size:5.4px;line-height:10px;color:#22c03c">Paid</div>
<div class="a" style="left:0;top:66.7px;width:221px;height:.6px;background:#eceef5"></div>
<div class="a" style="left:0;top:96.8px;width:221px;height:.6px;background:#eceef5"></div>
<div class="a" style="left:0;top:126.1px;width:221px;height:.6px;background:#eceef5"></div>
<div class="a" style="left:0;top:155.8px;width:221px;height:.6px;background:#eceef5"></div>
<svg class="a" style="left:0;top:0" width="221" height="185" viewBox="108 304 221 185">
<polyline points="259.9,358.4 266.7,354.2 273.4,356.5 280.2,354.6 287.0,358.4 293.7,356.5 300.5,360.0 307.3,357.2 314.0,360.5 320.8,358.4" fill="none" stroke="#45b0e6" stroke-width="1" stroke-linejoin="round"/>
<polyline points="259.9,389.5 266.7,389.5 273.4,390.7 280.2,386.7 287.0,388.4 293.7,387.2 300.5,389.5 307.3,386.0 314.0,386.7 320.8,384.4" fill="none" stroke="#f2708c" stroke-width="1" stroke-linejoin="round"/>
<polyline points="259.9,416.0 266.7,416.0 273.4,413.9 280.2,417.4 287.0,415.0 293.7,417.2 300.5,416.0 307.3,416.7 314.0,416.0 320.8,418.6" fill="none" stroke="#43c197" stroke-width="1" stroke-linejoin="round"/>
<polyline points="259.9,448.5 266.7,443.3 273.4,445.4 280.2,443.8 287.0,449.0 293.7,447.3 300.5,448.5 307.3,445.4 314.0,446.1 320.8,444.3" fill="none" stroke="#f4a46c" stroke-width="1" stroke-linejoin="round"/>
<polyline points="259.9,478.4 266.7,476.8 273.4,472.5 280.2,475.6 287.0,478.0 293.7,475.6 300.5,478.7 307.3,476.8 314.0,473.3 320.8,476.3" fill="none" stroke="#8a5fd6" stroke-width="1" stroke-linejoin="round"/>
</svg>
</div>
<div class="card" style="left:340px;top:304px;width:220px;height:185px">
<div class="a t" style="left:8.3px;top:6.7px;font-size:5.44px;line-height:10px">SALES ACTIVITY</div>
<div class="a m" style="left:8.3px;top:17.5px;font-size:5.06px;line-height:9px">Sales activities are the tactics that salespeople use to achieve their goals and objective</div>
<div class="a" style="left:8.9px;top:32.8px;width:15.6px;height:15.6px;border-radius:50%;background:linear-gradient(135deg,#0a5fe6,#5fa2f4)"></div>
<svg class="a" style="left:12.7px;top:36.6px" width="8" height="8" viewBox="0 0 8 8"><circle cx="4" cy="4" r="2.6" fill="none" stroke="#fff" stroke-width=".9"/><path d="M4 4V1.6M4 4H6.4" stroke="#fff" stroke-width=".9"/></svg>
<div class="a t" style="left:28.2px;top:32.1px;font-size:5.46px;line-height:10px;color:#1d2b4f">Total Products</div>
<div class="a m" style="left:28.2px;top:40.1px;font-size:5.0px;line-height:10px">1.3k New Products</div>
<div class="a m" style="right:8px;top:31.0px;font-size:4.3px;line-height:10px">3 days ago</div>
<div class="a" style="left:8.9px;top:58.2px;width:15.6px;height:15.6px;border-radius:50%;background:linear-gradient(135deg,#f03a62,#f77a93)"></div>
<svg class="a" style="left:12.7px;top:62.0px" width="8" height="8" viewBox="0 0 8 8"><path d="M.8 1.2H2L3 5.2H6.6L7.3 2.4H2.4" fill="none" stroke="#fff" stroke-width=".8"/><circle cx="3.4" cy="6.6" r=".6" fill="#fff"/><circle cx="6.2" cy="6.6" r=".6" fill="#fff"/></svg>
<div class="a t" style="left:28.2px;top:57.5px;font-size:5.46px;line-height:10px;color:#1d2b4f">Total Sales</div>
<div class="a m" style="left:28.2px;top:65.5px;font-size:5.0px;line-height:10px">1k New Sales</div>
<div class="a m" style="right:8px;top:56.4px;font-size:4.3px;line-height:10px">35 mins ago</div>
<div class="a" style="left:8.9px;top:83.6px;width:15.6px;height:15.6px;border-radius:50%;background:linear-gradient(135deg,#0f9b69,#4fd6a9)"></div>
<svg class="a" style="left:12.7px;top:87.4px" width="8" height="8" viewBox="0 0 8 8"><path d="M2 6.5V5M4 6.5V3.5M6 6.5V1.5" stroke="#fff" stroke-width="1"/></svg>
<div class="a t" style="left:28.2px;top:82.9px;font-size:5.46px;line-height:10px;color:#1d2b4f">Total Revenue</div>
<div class="a m" style="left:28.2px;top:90.9px;font-size:5.0px;line-height:10px">23.5K New Revenue</div>
<div class="a m" style="right:8px;top:81.8px;font-size:4.3px;line-height:10px">50 mins ago</div>
<div class="a" style="left:8.9px;top:109.0px;width:15.6px;height:15.6px;border-radius:50%;background:linear-gradient(135deg,#f76a2d,#f2a060)"></div>
<svg class="a" style="left:12.7px;top:112.8px" width="8" height="8" viewBox="0 0 8 8"><path d="M4 .9L6.8 2.4V5.6L4 7.1L1.2 5.6V2.4Z" fill="none" stroke="#fff" stroke-width=".8"/><path d="M1.2 2.4L4 4L6.8 2.4M4 4V7.1" fill="none" stroke="#fff" stroke-width=".6"/></svg>
<div class="a t" style="left:28.2px;top:108.3px;font-size:5.46px;line-height:10px;color:#1d2b4f">Total Profit</div>
<div class="a m" style="left:28.2px;top:116.3px;font-size:5.0px;line-height:10px">3k New profit</div>
<div class="a m" style="right:8px;top:107.2px;font-size:4.3px;line-height:10px">1 hour ago</div>
<div class="a" style="left:8.9px;top:134.4px;width:15.6px;height:15.6px;border-radius:50%;background:linear-gradient(135deg,#5a0dbf,#9a63f0)"></div>
<svg class="a" style="left:12.7px;top:138.2px" width="8" height="8" viewBox="0 0 8 8"><path d="M.6 4C2 1.8 6 1.8 7.4 4C6 6.2 2 6.2 .6 4Z" fill="none" stroke="#fff" stroke-width=".8"/><circle cx="4" cy="4" r="1.1" fill="#fff"/></svg>
<div class="a t" style="left:28.2px;top:133.7px;font-size:5.46px;line-height:10px;color:#1d2b4f">Customer Visits</div>
<div class="a m" style="left:28.2px;top:141.7px;font-size:5.0px;line-height:10px">15% Increased</div>
<div class="a m" style="right:8px;top:132.6px;font-size:4.3px;line-height:10px">1 day ago</div>
<div class="a" style="left:8.9px;top:159.8px;width:15.6px;height:15.6px;border-radius:50%;background:linear-gradient(135deg,#0a5fe6,#6aa8f4)"></div>
<svg class="a" style="left:12.7px;top:163.6px" width="8" height="8" viewBox="0 0 8 8"><path d="M1.2 1.8H4M1.2 1.8V6.8H6.2V4" fill="none" stroke="#fff" stroke-width=".8"/><path d="M3.2 4.8L6.6 1.4" stroke="#fff" stroke-width=".9"/></svg>
<div class="a t" style="left:28.2px;top:159.1px;font-size:5.46px;line-height:10px;color:#1d2b4f">Customer Reviews</div>
<div class="a m" style="left:28.2px;top:167.1px;font-size:5.0px;line-height:10px">1.5k reviews</div>
<div class="a m" style="right:8px;top:158.0px;font-size:4.3px;line-height:10px">1 day ago</div>
</div>
<div class="card" style="left:571px;top:304px;width:221px;height:128px">
<div class="a t" style="left:8.8px;top:6.9px;font-size:5.19px;line-height:10px">RECENT ORDERS</div>
<div class="a m" style="left:8.8px;top:17.6px;font-size:5.1px;line-height:9px">An order is an investor's instructions to a broker or brokerage firm to purchase or sell</div>
<svg class="a" style="left:0;top:0" width="221" height="128" viewBox="0 0 221 128">
 <defs><linearGradient id="gg" x1="0" y1="0" x2="1" y2="0"><stop offset="0" stop-color="#0a5fe9"/><stop offset=".55" stop-color="#0a7bef"/><stop offset="1" stop-color="#25bde4"/></linearGradient></defs>
 <path d="M133.00 62.86 A21.9 21.9 0 0 1 126.59 78.69" fill="none" stroke="#f0f2f5" stroke-width="4.5"/>
 <path d="M95.61 78.69 A21.9 21.9 0 1 1 133.00 62.86" fill="none" stroke="url(#gg)" stroke-width="6.8" stroke-dasharray="1.3 1.55"/>
</svg>
<div class="a" style="left:91.10000000000002px;top:57.5px;width:40px;text-align:center;font-size:10.2px;line-height:12px;color:#3f4a5f">83%</div>
<div class="a" style="left:13.6px;top:94.5px;width:3px;height:3px;background:#0b5fe9"></div>
<div class="a m" style="left:21px;top:91.5px;font-size:5.68px;line-height:9px;color:#4d5875">Delivered</div>
<div class="a t" style="left:14px;top:99.8px;font-size:8.81px;line-height:12px;color:#1d2b4f">5238</div>
<div class="a m" style="left:14px;top:112.5px;font-size:5.89px;line-height:9px">Last 6 months</div>
<div class="a" style="left:116px;top:94.5px;width:3px;height:3px;background:#00b9ff"></div>
<div class="a m" style="left:123.4px;top:91.5px;font-size:5.68px;line-height:9px;color:#4d5875">Cancelled</div>
<div class="a t" style="left:116px;top:99.8px;font-size:8.81px;line-height:12px;color:#1d2b4f">3467</div>
<div class="a m" style="left:116px;top:112.5px;font-size:5.89px;line-height:9px">Last 6 months</div>
</div>
<div class="card" style="left:571px;top:444px;width:221px;height:45px">
<div class="a" style="left:8.8px;top:6.7px;font-size:5.83px;line-height:9px;color:#4d5875">Total Sales</div>
<div class="a t" style="left:8.8px;top:18.5px;font-size:10.2px;line-height:13px;color:#1d2b4f">$7,590</div>
<div class="a" style="left:8.8px;top:35px;width:96px;height:1px;background:#eef0f4"></div>
<div class="a" style="left:8.8px;top:34.6px;width:76px;height:1.5px;border-radius:1px;background:linear-gradient(to right,#0a5fe9,#4b8ff2)"></div>
<div class="a" style="left:81.3px;top:31.8px;width:7px;height:7px;border-radius:50%;background:#fff;border:1.8px solid #0a62e8"></div>
<div class="a" style="left:116px;top:6.7px;font-size:5.83px;line-height:9px;color:#4d5875">Active Users</div>
<div class="a t" style="left:116px;top:18.5px;font-size:10.2px;line-height:13px;color:#1d2b4f">$5,460</div>
<div class="a" style="left:116px;top:35px;width:96px;height:1px;background:#eef0f4"></div>
<div class="a" style="left:116px;top:34.6px;width:42px;height:1.5px;border-radius:1px;background:#ee335e"></div>
<div class="a" style="left:154.5px;top:31.8px;width:7px;height:7px;border-radius:50%;background:#fff;border:1.8px solid #ee335e"></div>
</div>
<div class="card" style="left:108px;top:500px;width:221px;height:145px">
<div class="a t" style="left:8.9px;top:5.7px;font-size:5.06px;line-height:10px">YOUR TOP COUNTRIES</div>
<div class="a m" style="left:8.9px;top:16.1px;font-size:5.12px;line-height:9px">Sales performance revenue based by country</div>
<div class="a" style="left:8.3px;top:28.3px;width:204.2px;height:104.5px;border:.6px solid #eceef4"></div>
<div class="a" style="left:8.3px;top:45.8px;width:204.2px;height:.6px;background:#eceef4"></div>
<div class="a" style="left:8.3px;top:63.0px;width:204.2px;height:.6px;background:#eceef4"></div>
<div class="a" style="left:8.3px;top:80.6px;width:204.2px;height:.6px;background:#eceef4"></div>
<div class="a" style="left:8.3px;top:98.0px;width:204.2px;height:.6px;background:#eceef4"></div>
<div class="a" style="left:8.3px;top:115.3px;width:204.2px;height:.6px;background:#eceef4"></div>
<div class="a" style="left:13px;top:31.7px;font-size:5.8px;line-height:10px;color:#3d4a66">United States</div>
<div class="a t" style="right:12.7px;top:31.7px;font-size:5.9px;line-height:10px;color:#1d2b4f">$1,671.10</div>
<div class="a" style="left:13px;top:49.2px;font-size:5.8px;line-height:10px;color:#3d4a66">Netherlands</div>
<div class="a t" style="right:12.7px;top:49.2px;font-size:5.9px;line-height:10px;color:#1d2b4f">$1,064.75</div>
<div class="a" style="left:13px;top:66.7px;font-size:5.8px;line-height:10px;color:#3d4a66">United Kingdom</div>
<div class="a t" style="right:12.7px;top:66.7px;font-size:5.9px;line-height:10px;color:#1d2b4f">$1,055.98</div>
<div class="a" style="left:13px;top:84.2px;font-size:5.8px;line-height:10px;color:#3d4a66">Canada</div>
<div class="a t" style="right:12.7px;top:84.2px;font-size:5.9px;line-height:10px;color:#1d2b4f">$1,045.49</div>
<div class="a" style="left:13px;top:101.7px;font-size:5.8px;line-height:10px;color:#3d4a66">India</div>
<div class="a t" style="right:12.7px;top:101.7px;font-size:5.9px;line-height:10px;color:#1d2b4f">$1,930.12</div>
<div class="a" style="left:13px;top:119.2px;font-size:5.8px;line-height:10px;color:#3d4a66">Australia</div>
<div class="a t" style="right:12.7px;top:119.2px;font-size:5.9px;line-height:10px;color:#1d2b4f">$1,042.00</div>
</div>
<div class="card" style="left:340px;top:500px;width:452px;height:145px">
<div class="a t" style="left:8.4px;top:6px;font-size:5.35px;line-height:10px">YOUR MOST RECENT EARNINGS</div>
<div class="a m" style="left:8.4px;top:18.8px;font-size:5.16px;line-height:9px">This is your most recent earnings for today's date.</div>
<div class="a" style="left:432px;top:8.2px;width:12px;height:12px;border-radius:50%;border:.6px solid #f5f6fa"></div>
<div class="a" style="left:434px;top:8.8px;width:8px;text-align:center;font-size:7px;line-height:10px;color:#5f6880;letter-spacing:-.6px;font-weight:700">&middot;&middot;&middot;</div>
<div class="a" style="left:8.2px;top:34.1px;width:435.6px;height:99px;border:.6px solid #eceef4"></div>
<div class="a t" style="left:15.0px;top:37.8px;font-size:4.9px;line-height:10px;color:#242f48">DATE</div>
<div class="a t" style="left:125.2px;top:37.8px;font-size:4.9px;line-height:10px;color:#242f48">SALES COUNT</div>
<div class="a t" style="left:241.6px;top:37.8px;font-size:4.9px;line-height:10px;color:#242f48">EARNINGS</div>
<div class="a t" style="left:336.5px;top:37.8px;font-size:4.9px;line-height:10px;color:#242f48">TAX WITHELD</div>
<div class="a" style="left:8.8px;top:50.1px;width:434.4px;height:16.5px;background:#edf0fa"></div>
<div class="a" style="left:15.0px;top:53.4px;font-size:5.71px;line-height:10px;color:#3d4a66">05 Dec 2019</div>
<div class="a" style="left:125.2px;top:53.4px;font-size:6px;line-height:10px;color:#1d2b4f">34</div>
<div class="a" style="left:241.6px;top:53.4px;font-size:6.0px;line-height:10px;color:#1d2b4f">$658.20</div>
<div class="a" style="left:336.5px;top:53.4px;font-size:5.93px;line-height:10px;color:#1d2b4f">-$45.10</div>
<div class="a" style="left:15.0px;top:69.9px;font-size:5.71px;line-height:10px;color:#3d4a66">06 Dec 2019</div>
<div class="a" style="left:125.2px;top:69.9px;font-size:6px;line-height:10px;color:#1d2b4f">26</div>
<div class="a" style="left:241.6px;top:69.9px;font-size:6.0px;line-height:10px;color:#1d2b4f">$453.25</div>
<div class="a" style="left:336.5px;top:69.9px;font-size:5.93px;line-height:10px;color:#f1385e">-$15.02</div>
<div class="a" style="left:8.8px;top:83.1px;width:434.4px;height:16.5px;background:#edf0fa"></div>
<div class="a" style="left:15.0px;top:86.4px;font-size:5.71px;line-height:10px;color:#3d4a66">07 Dec 2019</div>
<div class="a" style="left:125.2px;top:86.4px;font-size:6px;line-height:10px;color:#1d2b4f">34</div>
<div class="a" style="left:241.6px;top:86.4px;font-size:6.0px;line-height:10px;color:#1d2b4f">$653.12</div>
<div class="a" style="left:336.5px;top:86.4px;font-size:5.93px;line-height:10px;color:#1d2b4f">-$13.45</div>
<div class="a" style="left:15.0px;top:102.9px;font-size:5.71px;line-height:10px;color:#3d4a66">08 Dec 2019</div>
<div class="a" style="left:125.2px;top:102.9px;font-size:6px;line-height:10px;color:#1d2b4f">45</div>
<div class="a" style="left:241.6px;top:102.9px;font-size:6.0px;line-height:10px;color:#1d2b4f">$546.47</div>
<div class="a" style="left:336.5px;top:102.9px;font-size:5.93px;line-height:10px;color:#f1385e">-$24.22</div>
<div class="a" style="left:8.8px;top:116.1px;width:434.4px;height:16.5px;background:#edf0fa"></div>
<div class="a" style="left:15.0px;top:119.4px;font-size:5.71px;line-height:10px;color:#3d4a66">09 Dec 2019</div>
<div class="a" style="left:125.2px;top:119.4px;font-size:6px;line-height:10px;color:#1d2b4f">31</div>
<div class="a" style="left:241.6px;top:119.4px;font-size:6.0px;line-height:10px;color:#1d2b4f">$425.72</div>
<div class="a" style="left:336.5px;top:119.4px;font-size:5.93px;line-height:10px;color:#1d2b4f">-$25.01</div>
<div class="a" style="left:8.8px;top:50.1px;width:434.4px;height:.6px;background:#eceef4"></div>
<div class="a" style="left:8.8px;top:66.6px;width:434.4px;height:.6px;background:#eceef4"></div>
<div class="a" style="left:8.8px;top:83.1px;width:434.4px;height:.6px;background:#eceef4"></div>
<div class="a" style="left:8.8px;top:99.6px;width:434.4px;height:.6px;background:#eceef4"></div>
<div class="a" style="left:8.8px;top:116.1px;width:434.4px;height:.6px;background:#eceef4"></div>
<div class="a" style="left:118.6px;top:34.1px;width:.6px;height:99px;background:#eceef4"></div>
<div class="a" style="left:235.6px;top:34.1px;width:.6px;height:99px;background:#eceef4"></div>
<div class="a" style="left:329.5px;top:34.1px;width:.6px;height:99px;background:#eceef4"></div>
</div>
<!--END-->
</div>
</body></html>
